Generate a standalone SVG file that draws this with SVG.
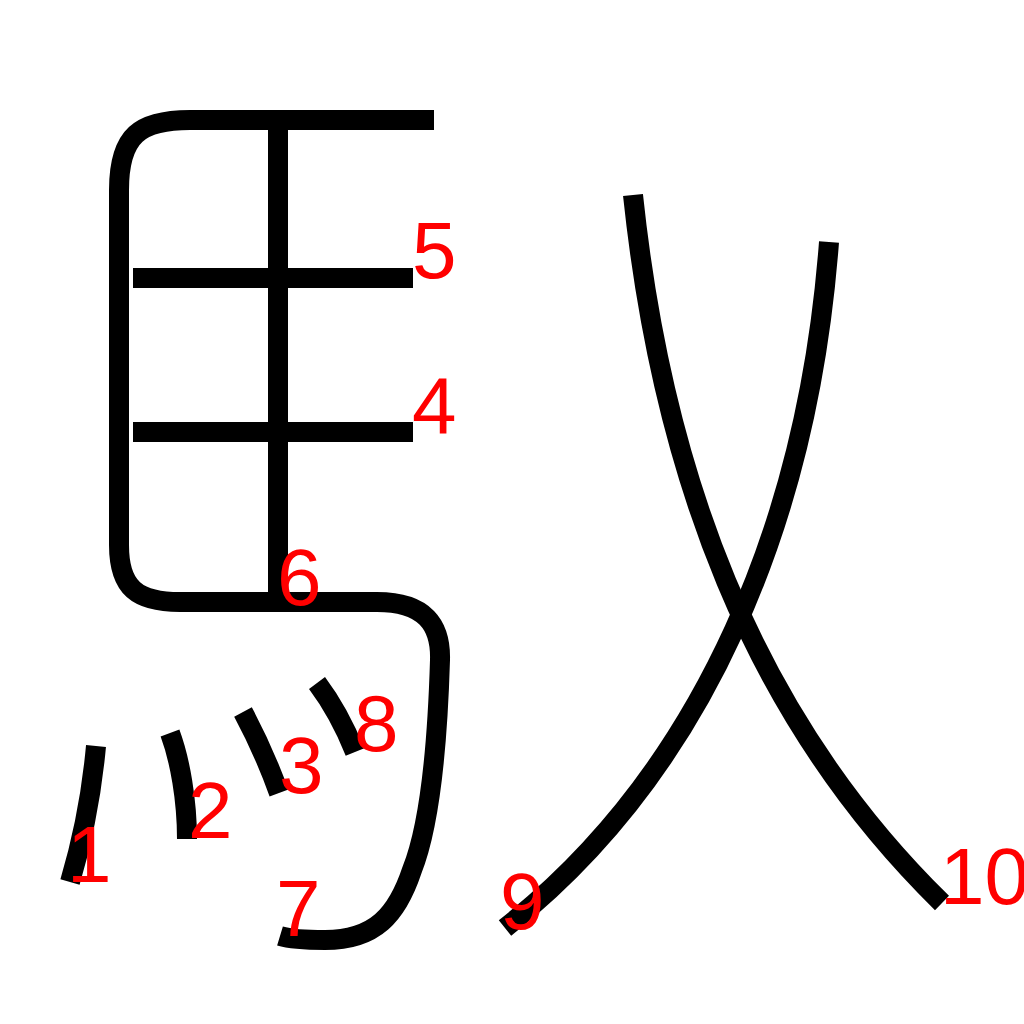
<svg xmlns="http://www.w3.org/2000/svg" width="1024" height="1024" viewBox="0 0 1024 1024">
<style>
.s{fill:none;stroke:#000;stroke-width:20;stroke-linecap:butt;stroke-linejoin:round}
.n{fill:#f00;font-family:"Liberation Sans",Arial,sans-serif;font-size:80px}
</style>
<rect width="1024" height="1024" fill="#fff"/>
<g id="strokes">
<path id="s-outer" class="s" d="M434,120 L190,120 C140,120 119,135 119,190 L119,545 C119,588 137,602 180,602 L377,602 C425,602 441,625 440,660 C437,760 428,830 412,870 C397,915 375,940 325,940 C300,940 290,939 280,936"/>
<path id="s-mid" class="s" d="M278,128 L278,600"/>
<path id="s4" class="s" d="M133,432 L413,432"/>
<path id="s5" class="s" d="M133,278 L413,278"/>
<path id="s1" class="s" d="M96,746 C92,790 84,835 70,882"/>
<path id="s2" class="s" d="M170,733 C180,760 187,800 187,839"/>
<path id="s3" class="s" d="M243,712 C258,740 270,768 279,793"/>
<path id="s8" class="s" d="M317,683 C332,703 345,727 355,752"/>
<path id="s10" class="s" d="M633,195 C662,470 750,715 942,903"/>
<path id="s9" class="s" d="M829,242 C808,520 705,770 505,928"/>
</g>
<g id="labels">
<text class="n" x="67" y="882">1</text>
<text class="n" x="188" y="838">2</text>
<text class="n" x="279" y="793">3</text>
<text class="n" x="412" y="433">4</text>
<text class="n" x="412" y="278">5</text>
<text class="n" x="277" y="605">6</text>
<text class="n" x="276" y="936">7</text>
<text class="n" x="354" y="751">8</text>
<text class="n" x="500" y="929">9</text>
<text class="n" x="940" y="904">10</text>
</g>
</svg>
